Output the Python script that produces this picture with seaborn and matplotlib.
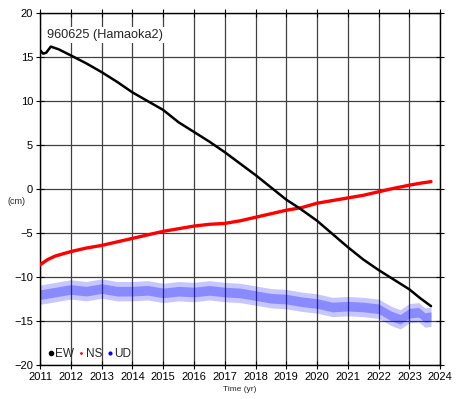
import matplotlib
matplotlib.use("Agg")
import matplotlib.pyplot as plt
from matplotlib.lines import Line2D
import seaborn as sns
import numpy as np
import pandas as pd

# -----------------------------
# data (cm)
# -----------------------------
ew_t = [2011.0, 2011.1, 2011.2, 2011.35, 2011.6, 2012.0, 2012.5, 2013.0, 2013.5,
        2014.0, 2014.5, 2015.0, 2015.5, 2016.0, 2016.5, 2017.0, 2017.5, 2018.0,
        2018.5, 2019.0, 2019.44, 2020.0, 2020.5, 2021.0, 2021.5, 2022.0, 2022.5,
        2023.0, 2023.35, 2023.7]
ew_v = [15.8, 15.4, 15.5, 16.2, 15.9, 15.2, 14.3, 13.3, 12.2,
        11.0, 10.0, 9.0, 7.6, 6.5, 5.4, 4.2, 2.9, 1.6,
        0.2, -1.2, -2.2, -3.6, -5.1, -6.6, -8.0, -9.2, -10.3,
        -11.4, -12.4, -13.3]

ns_t = [2011.0, 2011.25, 2011.5, 2012.0, 2012.5, 2013.0, 2013.5, 2014.0, 2014.5,
        2015.0, 2015.5, 2016.0, 2016.5, 2017.0, 2017.5, 2018.0, 2018.5, 2019.0,
        2019.5, 2020.0, 2020.5, 2021.0, 2021.5, 2022.0, 2022.5, 2023.0, 2023.4,
        2023.7]
ns_v = [-8.6, -8.0, -7.6, -7.1, -6.7, -6.4, -6.0, -5.6, -5.2,
        -4.8, -4.5, -4.2, -4.0, -3.9, -3.6, -3.2, -2.8, -2.4,
        -2.1, -1.6, -1.3, -1.0, -0.7, -0.3, 0.1, 0.45, 0.7,
        0.85]

ud_t = [2011.0, 2011.5, 2012.0, 2012.5, 2013.0, 2013.5, 2014.0, 2014.5, 2015.0,
        2015.5, 2016.0, 2016.5, 2017.0, 2017.5, 2018.0, 2018.5, 2019.0, 2019.5,
        2020.0, 2020.5, 2021.0, 2021.5, 2022.0, 2022.4, 2022.7, 2023.0, 2023.3,
        2023.5, 2023.7]
ud_v = [-12.0, -11.7, -11.4, -11.6, -11.3, -11.6, -11.6, -11.5, -11.8,
        -11.6, -11.7, -11.5, -11.7, -11.8, -12.1, -12.4, -12.5, -12.8,
        -13.0, -13.4, -13.3, -13.4, -13.6, -14.4, -14.8, -14.1, -14.0,
        -14.6, -14.5]
ud_scatter = 1.1  # half width of the daily scatter cloud

years = list(range(2011, 2025))
station = "960625 (Hamaoka2)"

# -----------------------------
# plot
# -----------------------------
sns.set_style("ticks")
plt.rcParams["font.family"] = ["Liberation Sans", "DejaVu Sans"]

fig = plt.figure(figsize=(4.67, 3.99), dpi=100)
ax = fig.add_axes([0.0857, 0.085, 0.857, 0.882])

ud = pd.DataFrame({"t": ud_t, "v": ud_v})
ax.fill_between(ud["t"], ud["v"] - ud_scatter, ud["v"] + ud_scatter,
                color="blue", alpha=0.22, lw=0, zorder=2)
ax.fill_between(ud["t"], ud["v"] - ud_scatter / 2, ud["v"] + ud_scatter / 2,
                color="blue", alpha=0.3, lw=0, zorder=2)

sns.lineplot(x=ns_t, y=ns_v, color="red", lw=2.4, ax=ax, zorder=3)
sns.lineplot(x=ew_t, y=ew_v, color="black", lw=1.8, ax=ax, zorder=4)

ax.set_xlim(2011, 2024)
ax.set_ylim(-20, 20)
ax.set_xticks(years)
ax.set_yticks(range(-20, 25, 5))
ax.set_yticklabels([str(v).replace("-", "\u2212") for v in range(-20, 25, 5)])
ax.grid(True, color="0.25", lw=0.9)
ax.tick_params(direction="inout", length=6, width=0.8, labelsize=8,
               top=True, right=True, pad=2, colors="black")
for s in ax.spines.values():
    s.set_linewidth(1.0)
    s.set_color("black")

ax.set_xlabel("Time (yr)", fontsize=6, labelpad=3)
ax.set_ylabel("")
ax.text(-0.06, 0.465, "(cm)", transform=ax.transAxes, fontsize=6.5,
        ha="center", va="center")

ax.text(0.018, 0.955, station, transform=ax.transAxes, fontsize=9.2,
        ha="left", va="top", zorder=6,
        bbox=dict(facecolor="white", edgecolor="none", pad=1.5))

handles = [
    Line2D([], [], ls="none", marker="o", ms=3, color="black"),
    Line2D([], [], ls="none", marker="o", ms=1, color="red"),
    Line2D([], [], ls="none", marker="o", ms=2, color="blue"),
]
ax.legend(handles, ["EW", "NS", "UD"], loc="lower left", ncol=3, frameon=False,
          fontsize=8.5, handlelength=0.6, handletextpad=0.1, columnspacing=0.3,
          bbox_to_anchor=(0.0, -0.005), borderaxespad=0.2)

fig.savefig("out.png", dpi=100)
plt.close(fig)
